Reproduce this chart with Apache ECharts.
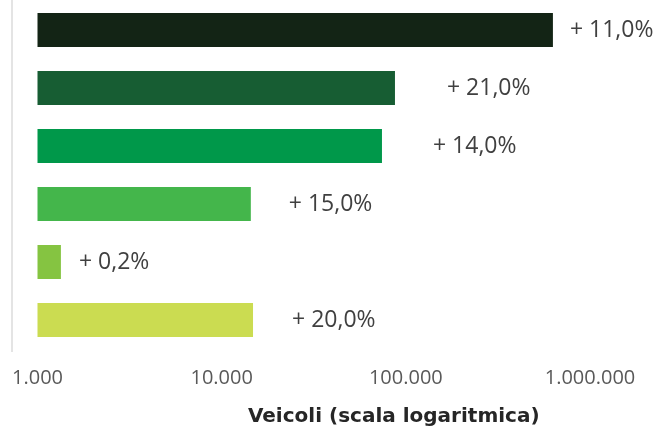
<!DOCTYPE html>
<html>
<head>
<meta charset="utf-8">
<script src="https://cdn.jsdelivr.net/npm/echarts@6/dist/echarts.min.js"></script>
<style>
  html, body { margin: 0; padding: 0; background: #fff; }
  #chart { width: 654px; height: 428px; }
</style>
</head>
<body>
<div id="chart"></div>
<script>
// categories are not visible in the picture (cropped), top to bottom
const categories = ['Cat. 1', 'Cat. 2', 'Cat. 3', 'Cat. 4', 'Cat. 5', 'Cat. 6']
const vehicles = [629000, 87300, 74200, 14400, 1340, 14800]
const growth = [11.0, 21.0, 14.0, 15.0, 0.2, 20.0]
const tickValues = [1000, 10000, 100000, 1000000]

const barColors = ['#132415', '#175d33', '#00984a', '#44b64b', '#85c441', '#cbdc51']
const labelGaps = [17, 52, 51, 38, 18, 39]

const fmtThousands = v => String(Math.round(v)).replace(/\B(?=(\d{3})+(?!\d))/g, '.')
const fmtGrowth = v => '+ ' + v.toFixed(1).replace('.', ',') + '%'

const chart = echarts.init(document.getElementById('chart'), null, { renderer: 'canvas' })

const option = {
  animation: false,
  grid: {
    left: 37.5,
    right: 64,
    top: 1,
    bottom: 79,
    containLabel: false,
    outerBoundsMode: 'none'
  },
  xAxis: {
    type: 'log',
    logBase: 10,
    min: tickValues[0],
    max: tickValues[tickValues.length - 1],
    axisLine: { show: false },
    axisTick: { show: false },
    splitLine: { show: false },
    axisLabel: {
      color: '#595959',
      fontFamily: 'Open Sans',
      fontSize: 20,
      margin: 19,
      formatter: v => fmtThousands(v)
    },
    name: 'Veicoli (scala logaritmica)',
    nameLocation: 'middle',
    nameGap: 58,
    nameTextStyle: {
      color: '#262626',
      fontFamily: 'DejaVu Sans',
      fontWeight: 'bold',
      fontSize: 20,
      padding: [0, 0, 0, 160]
    }
  },
  yAxis: {
    type: 'category',
    inverse: true,
    data: categories,
    show: false
  },
  series: [
    {
      type: 'bar',
      barWidth: 34,
      data: vehicles.map((v, i) => ({
        value: v,
        itemStyle: { color: barColors[i] },
        label: { distance: labelGaps[i] }
      })),
      label: {
        show: true,
        position: 'right',
        color: '#404040',
        fontFamily: 'Open Sans',
        fontSize: 23,
        formatter: p => fmtGrowth(growth[p.dataIndex])
      }
    }
  ],
  graphic: [
    {
      type: 'line',
      shape: { x1: 12, y1: 0, x2: 12, y2: 352 },
      style: { stroke: '#e4e4e4', lineWidth: 2 },
      silent: true
    }
  ]
}

chart.setOption(option)
window.addEventListener('resize', () => chart.resize())
</script>
</body>
</html>
